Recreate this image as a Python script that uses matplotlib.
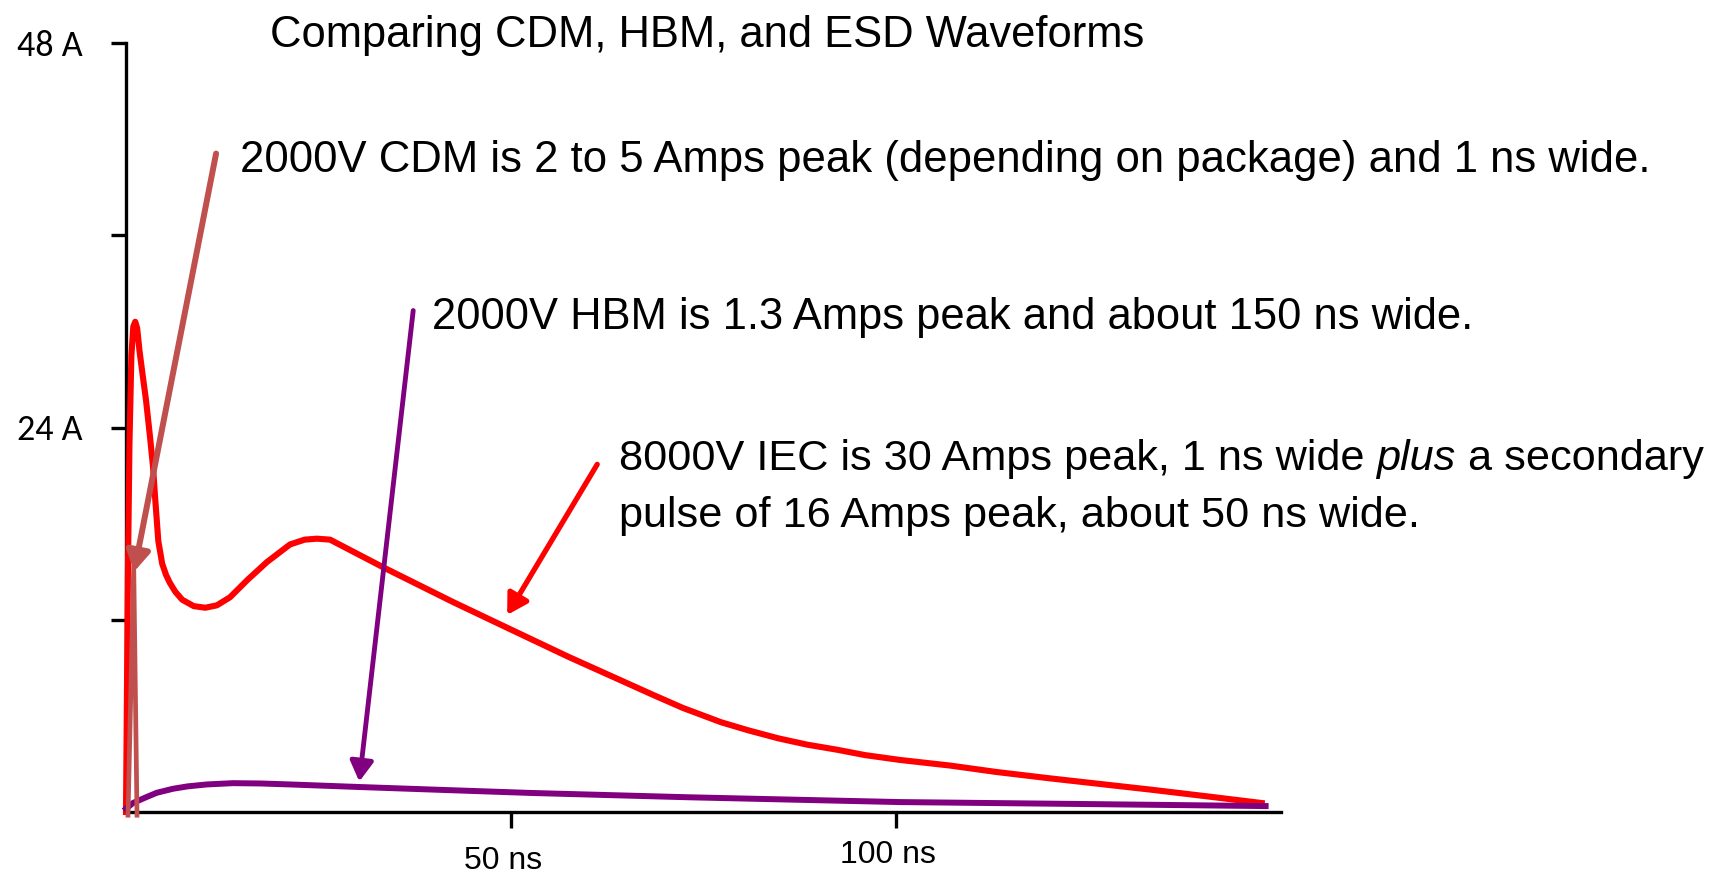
"""CDM / HBM / IEC ESD waveforms on one time axis, with callout arrows."""
import matplotlib
matplotlib.use("Agg")
import matplotlib.pyplot as plt
from matplotlib import font_manager
from matplotlib.transforms import blended_transform_factory, offset_copy

W, H = 1727, 877

# IEC 8 kV: fast spike plus slow secondary pulse (t in ns, current in A)
IEC_T = [0, 0.1, 0.25, 0.45, 0.7, 0.95, 1.2, 1.45, 1.75, 2.1, 2.6, 3.1, 3.5, 3.8,
         4.2, 4.7, 5.2, 5.7, 6.4, 7.3, 8.8, 10.3, 11.8, 13.5, 15.8, 18.3, 21.3,
         23.2, 24.8, 26.5, 33.5, 42.5, 49.5, 57.4, 64.8, 68.5, 72.3, 77.3, 80.8,
         84.7, 88.5, 92.2, 96, 100.5, 107, 113, 120, 126.5, 133, 140, 147.5]
IEC_I = [0, 6, 15, 23, 28.5, 30.3, 30.6, 30.2, 28.8, 27.5, 25.7, 23.5, 21.6, 19.5,
         16.9, 15.5, 14.8, 14.3, 13.75, 13.25, 12.85, 12.75, 12.9, 13.4, 14.5, 15.6,
         16.7, 17.0, 17.06, 17.0, 15.25, 13.1, 11.5, 9.7, 8.1, 7.3, 6.5, 5.6, 5.1,
         4.6, 4.2, 3.9, 3.55, 3.25, 2.9, 2.5, 2.1, 1.75, 1.4, 1.0, 0.56]

# HBM 2 kV
HBM_T = [0, 0.9, 2.7, 4.0, 6.1, 8.0, 10.5, 13.9, 17.5, 21.3, 30.3, 41, 52.5, 73, 94,
         100.5, 124, 148]
HBM_I = [0.2, 0.56, 0.94, 1.2, 1.45, 1.6, 1.72, 1.8, 1.78, 1.72, 1.56, 1.38, 1.19,
         0.92, 0.69, 0.62, 0.5, 0.37]

# CDM 2 kV: narrow spike
CDM_T = [0.26, 1.0, 1.43]
CDM_I = [-0.2, 15.4, -0.2]

# callout arrows: (from, to) in data units
CDM_ARROW = [(11.7, 41.1), (1.05, 15.0)]
HBM_ARROW = [(37.3, 31.3), (30.3, 1.9)]
IEC_ARROW = [(61.2, 21.7), (49.5, 12.3)]

Y_TICKS = [12, 24, 36, 48]
Y_LABELS = ["", "24 A", "", "48 A"]
X_TICKS = [50, 100]
X_LABELS = ["50 ns", "100 ns"]

RED = "#ff0000"
PURPLE = "#800080"
BROWN = "#c0504d"

installed = {f.name for f in font_manager.fontManager.ttflist}


def first_font(*names):
    for n in names:
        if n in installed:
            return n
    return "DejaVu Sans"


# the slide uses Arial Narrow; closest installed shape is Liberation Sans (Arial metrics)
NARROW = first_font("Liberation Sans Narrow", "Arial Narrow", "Liberation Sans", "Roboto")
TICKFONT = first_font("Carlito", "Lato", "Open Sans")

fig = plt.figure(figsize=(W / 100, H / 100), dpi=100)
ax = fig.add_axes([126 / W, 65 / H, (1281 - 126) / W, (812 - 43) / H])
ax.set_xlim(0, 150)
ax.set_ylim(0, 48)
for side in ("top", "right"):
    ax.spines[side].set_visible(False)
for side in ("left", "bottom"):
    ax.spines[side].set_linewidth(2.4)

ax.plot(IEC_T, IEC_I, color=RED, lw=4.4, solid_joinstyle="round", clip_on=False, zorder=3)
ax.plot(HBM_T, HBM_I, color=PURPLE, lw=4.3, solid_joinstyle="round", clip_on=False, zorder=4)
ax.plot(CDM_T, CDM_I, color=BROWN, lw=3.4, solid_joinstyle="round", clip_on=False, zorder=5)

for (start, tip), col, lw in [(CDM_ARROW, BROWN, 4.3), (HBM_ARROW, PURPLE, 3.5), (IEC_ARROW, RED, 3.8)]:
    ax.annotate("", xy=tip, xytext=start, annotation_clip=False, zorder=6,
                arrowprops=dict(arrowstyle="-|>,head_length=0.6,head_width=0.35", color=col,
                                lw=lw, shrinkA=0, shrinkB=0, mutation_scale=20))

# y axis: ticks at every 12 A, labels left-aligned at the figure edge
ax.set_yticks(Y_TICKS, labels=Y_LABELS)
ax.tick_params(axis="y", length=10.8, width=2.4, pad=68, labelsize=26)
for lab in ax.get_yticklabels():
    lab.set_horizontalalignment("left")
    lab.set_fontfamily(TICKFONT)

# x axis: ticks only, labels placed by hand (they sit a little left / low of the tick)
ax.set_xticks(X_TICKS, labels=["", ""])
ax.tick_params(axis="x", length=11.5, width=2.4)
trans = blended_transform_factory(ax.transData, fig.transFigure)
for x, lab, base in zip(X_TICKS, X_LABELS, [877 - 869, 877 - 863]):
    ax.text(x, base / H, lab, transform=offset_copy(trans, fig=fig, x=-8, units="dots"),
            ha="center", va="baseline", fontsize=23, family=NARROW)

fig.canvas.draw()
renderer = fig.canvas.get_renderer()


def put(x, y, s, size=35, **kw):
    """Text at a pixel position of the image (y from the top, baseline)."""
    return fig.text(x / W, (H - y) / H, s, va="baseline", family=NARROW, fontsize=size, **kw)


def fit(t, width):
    """Scale a text's font so it spans the width it has on the slide."""
    w = t.get_window_extent(renderer).width
    t.set_fontsize(t.get_fontsize() * width / w)
    return t.get_fontsize()


fit(put(270, 47, "Comparing CDM, HBM, and ESD Waveforms"), 875)
fit(put(240, 172, "2000V CDM is 2 to 5 Amps peak (depending on package) and 1 ns wide."), 1407)
fit(put(432, 329, "2000V HBM is 1.3 Amps peak and about 150 ns wide."), 1041)
size = fit(put(619, 527, "pulse of 16 Amps peak, about 50 ns wide."), 801)

# first IEC line has an italic word, so lay it out piece by piece
x = 619
for piece, style in [("8000V IEC is 30 Amps peak, 1 ns wide ", "normal"),
                     ("plus", "italic"), (" a secondary", "normal")]:
    t = put(x, 470, piece, size=size, style=style)
    x = t.get_window_extent(renderer).x1

fig.savefig("out.png", dpi=100)
